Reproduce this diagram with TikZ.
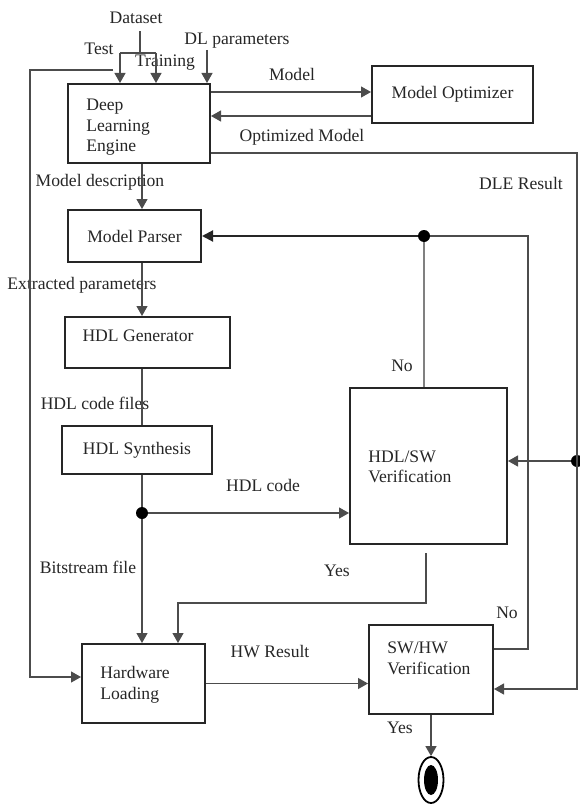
\documentclass[tikz,border=0pt]{standalone}
\usepackage{fontspec}
\setmainfont{Liberation Serif}
\usetikzlibrary{arrows.meta,shapes.geometric}
\begin{document}
\begin{tikzpicture}[x=0.5pt,y=-0.5pt,
  box/.style={draw=black!85,line width=1pt,inner sep=0pt},
  txt/.style={font=\fontsize{8.8}{10.3}\selectfont,text=black!85,inner sep=0pt,align=left},
  ln/.style={draw=black!70,line width=0.6pt},
  arr/.style={ln,-{Triangle[length=5pt,width=5.5pt]}},
  thk/.style={draw=black!85,line width=1pt,-{Triangle[length=5.5pt,width=5.5pt]}},
  dot/.style={circle,fill=black,inner sep=0pt,minimum size=6pt}]
\useasboundingbox (0,0) rectangle (579,808);

% boxes
\node[box,minimum width=71pt,minimum height=39.5pt] (dle) at (139,123.5) {};
\node[txt,anchor=west] (dlet) at (86,127.5) {Deep\\Learning\\Engine};
\node[box,minimum width=80.5pt,minimum height=28.5pt,txt] (mo) at (452.5,94.5) {Model Optimizer};
\node[box,minimum width=66.5pt,minimum height=26pt,txt] (mp) at (134.5,236) {Model Parser};
\node[box,minimum width=82.5pt,minimum height=25.5pt] (hg) at (147.5,342.5) {};
\node[txt] (hgt) at (138,336) {HDL Generator};
\node[box,minimum width=75pt,minimum height=24pt,txt] (hs) at (137,450) {HDL Synthesis};
\node[box,minimum width=78.5pt,minimum height=78pt] (hv) at (428.5,466) {};
\node[txt,anchor=west] (hvt) at (368,467) {HDL/SW\\Verification};
\node[box,minimum width=61.5pt,minimum height=39.5pt] (hwl) at (143.5,683.5) {};
\node[txt,anchor=west] (hwlt) at (100,685) {Hardware\\Loading};
\node[box,minimum width=62pt,minimum height=44.5pt] (sv) at (431,669.5) {};
\node[txt,anchor=west] (svt) at (387,658) {SW/HW\\Verification};
\node[draw=black,line width=0.9pt,ellipse,minimum width=12.5pt,minimum height=23pt,inner sep=0pt] (endo) at (431,780) {};
\node[fill=black,ellipse,minimum width=7pt,minimum height=15pt,inner sep=0pt] (endi) at (431,780) {};

% labels
\node[txt] (lds) at (136,18) {Dataset};
\node[txt] (lte) at (99,49) {Test};
\node[txt] (ltr) at (165,63) {Training};
\node[txt] (ldl) at (237,41) {DL parameters};
\node[txt] (lmo) at (292,74) {Model};
\node[txt] (lom) at (302,137) {Optimized Model};
\node[txt] (ldr) at (521,183) {DLE Result};
\node[txt] (lmd) at (100,182) {Model description};
\node[txt] (lep) at (82,285) {Extracted parameters};
\node[txt] (lno1) at (402,366) {No};
\node[txt] (lhcf) at (95,403) {HDL code files};
\node[txt] (lhc) at (263,485) {HDL code};
\node[txt] (lbf) at (88,567) {Bitstream file};
\node[txt] (lys1) at (337,571) {Yes};
\node[txt] (lno2) at (507,613) {No};
\node[txt] (lhw) at (270,652) {HW Result};
\node[txt] (lys2) at (400,728) {Yes};

% coordinates
\coordinate (dsj) at (140,53);
\coordinate (tA) at (120,53);
\coordinate (tB) at (156,53);
\coordinate (fb) at (113,70);
\coordinate (fbc) at (30,70);
\coordinate (dlp) at (207,50);
\coordinate (ym) at (0,92);
\coordinate (yo) at (0,116);
\coordinate (rr) at (577,153);
\coordinate (cx) at (142,0);
\coordinate (nr) at (528,236);
\coordinate (y1) at (426,603);
\coordinate (y2) at (178,603);

% dots
\node[dot] (d1) at (424,236) {};
\node[dot] (d2) at (142,513) {};
\node[dot] (d3) at (577,461) {};

% connectors
\draw[ln] ([yshift=-3.5pt]lds.south -| dsj) -- (dsj);
\draw[ln] (tA) -- (tB);
\draw[arr] (tA) -- (tA |- dle.north);
\draw[arr] (tB) -- (tB |- dle.north);
\draw[arr] (fb) -- (fbc) |- ([yshift=3.25pt]hwl.west);
\draw[arr] (dlp) -- (dlp |- dle.north);
\draw[arr] (dle.east |- ym) -- (mo.west |- ym);
\draw[arr] (mo.west |- yo) -- (dle.east |- yo);
\draw[arr] (dle.east |- rr) -- (rr) |- ([yshift=-9.75pt]sv.east);
\draw[arr] (d3) -- (hv.east |- d3);
\draw[arr] (cx |- dle.south) -- (cx |- mp.north);
\draw[arr] (cx |- mp.south) -- (cx |- hg.north);
\draw[ln] (cx |- hg.south) -- (cx |- hs.north);
\draw[ln] (cx |- hs.south) -- (d2);
\draw[arr] (d2) -- (cx |- hwl.north);
\draw[arr] (d2) -- (hv.west |- d2);
\draw[thk] (d1) -- (mp.east |- d1);
\draw[draw=black!50,line width=0.7pt] (d1) -- (d1 |- hv.north);
\draw[ln] ([yshift=10.25pt]sv.east) -| (nr) -- (d1);
\draw[arr] ([yshift=-4pt]y1 |- hv.south) -- (y1) -- (y2) -- (y2 |- hwl.north);
\draw[arr] (hwl.east) -- (sv.west |- hwl.east);
\draw[arr] (sv.south) -- (endo.north);
\end{tikzpicture}
\end{document}
